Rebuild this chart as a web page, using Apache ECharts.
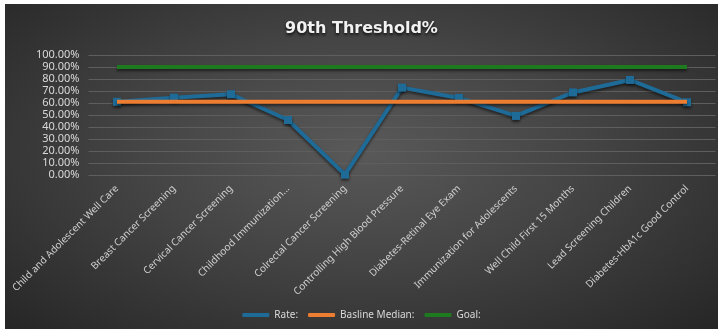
<!DOCTYPE html>
<html>
<head>
<meta charset="utf-8">
<script src="https://cdn.jsdelivr.net/npm/echarts@6/dist/echarts.min.js"></script>
<style>
  html, body { margin: 0; padding: 0; background: #ffffff; }
  #chart {
    position: absolute; left: 5px; top: 4px; width: 713px; height: 325px;
    background: radial-gradient(ellipse at 50% 45%, #595959 0%, #444444 45%, #262626 100%);
  }
</style>
</head>
<body>
<div id="chart"></div>
<script>
var categories = [
  'Child and Adolescent Well Care',
  'Breast Cancer Screening',
  'Cervical Cancer Screening',
  'Childhood Immunization...',
  'Colrectal Cancer Screening',
  'Controlling High Blood Pressure',
  'Diabetes-Retinal Eye Exam',
  'Immunization for Adolescents',
  'Well Child First 15 Months',
  'Lead Screening Children',
  'Diabetes-HbA1c Good Control'
];
var rateValues = [61, 64.4, 67.3, 45.8, 0.3, 72.8, 64.2, 49.2, 68.8, 79.2, 60.6];
var baselineValues = [61.1, 61.1, 61.1, 61.1, 61.1, 61.1, 61.1, 61.1, 61.1, 61.1, 61.1];
var goalValues = [90, 90, 90, 90, 90, 90, 90, 90, 90, 90, 90];

var lineShadow = { shadowBlur: 3, shadowColor: 'rgba(0,0,0,0.55)', shadowOffsetY: 2 };

var myChart = echarts.init(document.getElementById('chart'));
var option = {
  backgroundColor: 'transparent',
  animation: false,
  title: {
    text: '90th Threshold%',
    left: 'center',
    top: 12,
    textStyle: {
      color: '#f2f2f2', fontFamily: 'DejaVu Sans', fontWeight: 'bold', fontSize: 16,
      textShadowColor: 'rgba(0,0,0,0.8)', textShadowBlur: 3, textShadowOffsetY: 2
    }
  },
  grid: { left: 83.5, right: 2.5, top: 51, bottom: 154 },
  legend: {
    bottom: 4,
    left: 'center',
    itemWidth: 27,
    itemHeight: 4,
    itemGap: 10,
    textStyle: { color: '#d9d9d9', fontSize: 10, fontFamily: 'Noto Sans' },
    data: [
      { name: 'Rate:', icon: 'roundRect' },
      { name: 'Basline Median:', icon: 'roundRect' },
      { name: 'Goal:', icon: 'roundRect' }
    ]
  },
  xAxis: {
    type: 'category',
    data: categories,
    boundaryGap: true,
    axisLine: { show: false },
    axisTick: { show: false },
    axisLabel: {
      rotate: 45, interval: 0, margin: 12,
      color: '#d0d0d0', fontSize: 10, fontFamily: 'Noto Sans'
    }
  },
  yAxis: {
    type: 'value',
    min: 0, max: 100, interval: 10,
    axisLine: { show: false },
    axisTick: { show: false },
    splitLine: { lineStyle: { color: '#5e5e5e', width: 1 } },
    axisLabel: {
      margin: 9, color: '#d9d9d9', fontSize: 11, fontFamily: 'Noto Sans',
      formatter: function (v) { return v.toFixed(2) + '%'; }
    }
  },
  series: [
    {
      name: 'Rate:', type: 'line', data: rateValues, z: 3,
      symbol: 'rect', symbolSize: 8, showSymbol: true,
      lineStyle: Object.assign({ color: '#1e6b98', width: 4 }, lineShadow),
      itemStyle: Object.assign({ color: '#1e6b98' }, lineShadow)
    },
    {
      name: 'Basline Median:', type: 'line', data: baselineValues, z: 4,
      showSymbol: false, symbol: 'none',
      lineStyle: Object.assign({ color: '#ed7d31', width: 4 }, lineShadow),
      itemStyle: { color: '#ed7d31' }
    },
    {
      name: 'Goal:', type: 'line', data: goalValues, z: 2,
      showSymbol: false, symbol: 'none',
      lineStyle: Object.assign({ color: '#1e7a1e', width: 4 }, lineShadow),
      itemStyle: { color: '#1e7a1e' }
    }
  ]
};
myChart.setOption(option);
</script>
</body>
</html>
